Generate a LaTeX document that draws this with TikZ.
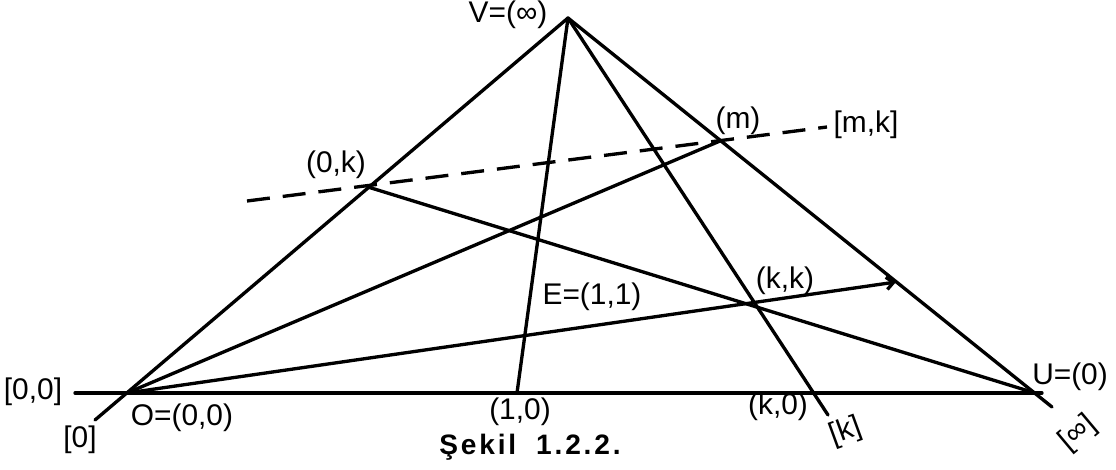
\documentclass[tikz,border=0pt]{standalone}
\usepackage{fontspec}
\setmainfont{Liberation Sans}
\newfontfamily\capfont[LetterSpace=10]{Liberation Sans}
\usetikzlibrary{arrows.meta}

\begin{document}
\begin{tikzpicture}[x=0.02cm, y=-0.02cm,
    font=\fontsize{17}{20}\selectfont,
    ray/.style={line width=1.9pt, line cap=round},
    guide/.style={line width=1.9pt, dash pattern=on 0.46cm off 0.26cm},
    lab/.style={inner sep=1pt}]
  \useasboundingbox (0,0) rectangle (1116,470);

% ---------------- the points of the frame
  \coordinate (V) at (568,18);
  \coordinate (O) at (127,393);
  \coordinate (U) at (1035,393);
  \coordinate (A10) at (517,393);
  \coordinate (Ak0) at (814,393);
  \coordinate (P0k) at (368,187);
  \coordinate (Pm) at (720,141);
  \coordinate (Pkk) at (755,303);
  \coordinate (Etip) at (896,282);

% ---------------- free ends of the lines
  \coordinate (baseL) at (75,393);
  \coordinate (baseR) at (1042,393);
  \coordinate (Oend) at (95,420);
  \coordinate (Uend) at (1052,407);
  \coordinate (kend) at (828,415);
  \coordinate (dashL) at (247,201);
  \coordinate (dashR) at (827,127);

% ---------------- the triangle and its sides, drawn past the corners
  \draw[ray] (baseL) -- (baseR);
  \draw[ray] (V) -- (Oend);
  \draw[ray] (V) -- (Uend);

% ---------------- lines through V
  \draw[ray] (V) -- (A10);
  \draw[ray] (V) -- (kend);

% ---------------- lines through O and U
  \draw[ray] (O) -- (Pm);
  \draw[ray, -{Straight Barb[length=4pt, width=7pt]}] (O) -- (Etip);
  \draw[ray] (P0k) -- (U);

% ---------------- the dashed line [m,k]
  \draw[guide] (dashL) -- (dashR);

% ---------------- labels
  \node[lab] (lV) at (508,15) {V=(∞)};
  \node[lab] (lm) at (738,121) {(m)};
  \node[lab] (lmk) at (866,125) {[m,k]};
  \node[lab] (l0k) at (336,165) {(0,k)};
  \node[lab] (lkk) at (785,281) {(k,k)};
  \node[lab] (lE) at (592,297) {E=(1,1)};
  \node[lab] (l10) at (520,412) {(1,0)};
  \node[lab] (lk0) at (778,407) {(k,0)};
  \node[lab] (lO) at (182,418) {O=(0,0)};
  \node[lab] (l00) at (33,392) {[0,0]};
  \node[lab] (l0) at (80,440) {[0]};
  \node[lab, rotate=20] (lk) at (846,432) {[k]};
  \node[lab] (lU) at (1070,377) {U=(0)};
  \node[lab, rotate=40] (linf) at (1078,433) {[∞]};

  \node[lab, font=\fontsize{16}{18}\selectfont\capfont\bfseries] (cap) at (530,447)
    {Şekil\hspace{0.4cm}1.2.2.};
\end{tikzpicture}
\end{document}
